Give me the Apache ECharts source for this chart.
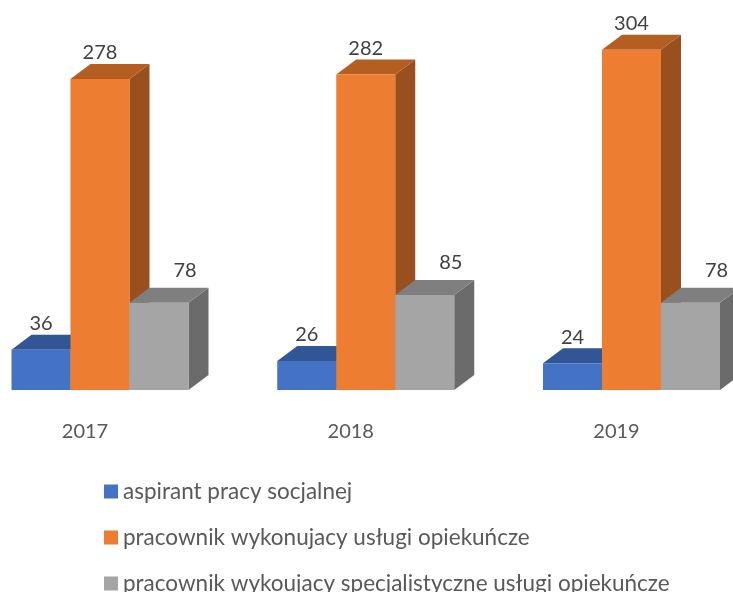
<!DOCTYPE html>
<html>
<head>
<meta charset="utf-8">
<script src="https://cdn.jsdelivr.net/npm/echarts@6/dist/echarts.min.js"></script>
<style>
  html, body { margin: 0; padding: 0; background: #ffffff; }
  #chart { width: 733px; height: 592px; }
</style>
</head>
<body>
<div id="chart"></div>
<script>
// Categories and values
const years = ['2017', '2018', '2019'];
const seriesNames = [
  'aspirant pracy socjalnej',
  'pracownik wykonujacy usługi opiekuńcze',
  'pracownik wykoujacy specjalistyczne usługi opiekuńcze'
];
const aspirant = [36, 26, 24];
const uslugiOpiekuncze = [278, 282, 304];
const specjalistyczne = [78, 85, 78];

// Face colours for each box: front, top, right side
const faceColors = [
  { front: '#4472C4', top: '#325596', side: '#2b4a85' },
  { front: '#ED7D31', top: '#B55E22', side: '#9A4F1E' },
  { front: '#A5A5A5', top: '#7F7F7F', side: '#6B6B6B' }
];
// Value-label offsets relative to the back edge of each top face
const labelShift = [
  { dx: 0, dy: -11 },
  { dx: 0, dy: -11 },
  { dx: 26, dy: -17 }
];

const DEPTH_X = 20;   // projected depth of a box
const DEPTH_Y = -15;
const BAR_FRAC = 0.222;    // bar width as a fraction of the category step
const START_FRAC = -0.2766; // left edge of the first bar relative to the tick

function makeRender(k) {
  const c = faceColors[k];
  const ls = labelShift[k];
  return function (params, api) {
    const i = api.value(0);
    const v = api.value(1);
    const p0 = api.coord([0, 0]);
    const p1 = api.coord([1, 0]);
    const step = p1[0] - p0[0];
    const base = api.coord([i, 0]);
    const topPt = api.coord([i, v]);
    const w = step * BAR_FRAC;
    const x0 = base[0] + step * START_FRAC + k * w;
    const x1 = x0 + w;
    const yb = base[1];
    const yt = topPt[1];
    return {
      type: 'group',
      children: [
        {
          type: 'polygon',
          shape: { points: [[x1, yt], [x1 + DEPTH_X, yt + DEPTH_Y], [x1 + DEPTH_X, yb + DEPTH_Y], [x1, yb]] },
          style: { fill: c.side }
        },
        {
          type: 'polygon',
          shape: { points: [[x0, yt], [x0 + DEPTH_X, yt + DEPTH_Y], [x1 + DEPTH_X, yt + DEPTH_Y], [x1, yt]] },
          style: { fill: c.top }
        },
        {
          type: 'rect',
          shape: { x: x0, y: yt, width: w, height: yb - yt },
          style: { fill: c.front }
        },
        {
          type: 'text',
          style: {
            text: String(v),
            x: (x0 + x1) / 2 + ls.dx,
            y: yt + DEPTH_Y + ls.dy,
            align: 'center',
            verticalAlign: 'middle',
            font: '20px Lato',
            fill: '#404040'
          },
          z2: 10
        }
      ]
    };
  };
}

const valueSets = [aspirant, uslugiOpiekuncze, specjalistyczne];

const chart = echarts.init(document.getElementById('chart'));
chart.setOption({
  animation: false,
  backgroundColor: '#ffffff',
  grid: { left: 85, right: 116.5, top: 9.5, bottom: 202 },
  xAxis: {
    type: 'category',
    data: years,
    boundaryGap: false,
    axisLine: { show: false },
    axisTick: { show: false },
    splitLine: { show: false },
    axisLabel: {
      fontFamily: 'Lato',
      fontSize: 20,
      lineHeight: 20,
      color: '#595959',
      margin: 31.5
    }
  },
  yAxis: {
    type: 'value',
    min: 0,
    max: 340,
    show: false
  },
  legend: {
    orient: 'vertical',
    left: 104,
    top: 480,
    height: 200,
    padding: 0,
    itemWidth: 14,
    itemHeight: 14,
    itemGap: 23,
    icon: 'rect',
    data: seriesNames,
    textStyle: {
      fontFamily: 'Lato',
      fontSize: 22.5,
      lineHeight: 22,
      color: '#595959'
    }
  },
  series: valueSets.map(function (vals, k) {
    return {
      type: 'custom',
      name: seriesNames[k],
      itemStyle: { color: faceColors[k].front },
      renderItem: makeRender(k),
      encode: { x: 0, y: 1 },
      data: vals.map(function (v, i) { return [i, v]; })
    };
  })
});
</script>
</body>
</html>
